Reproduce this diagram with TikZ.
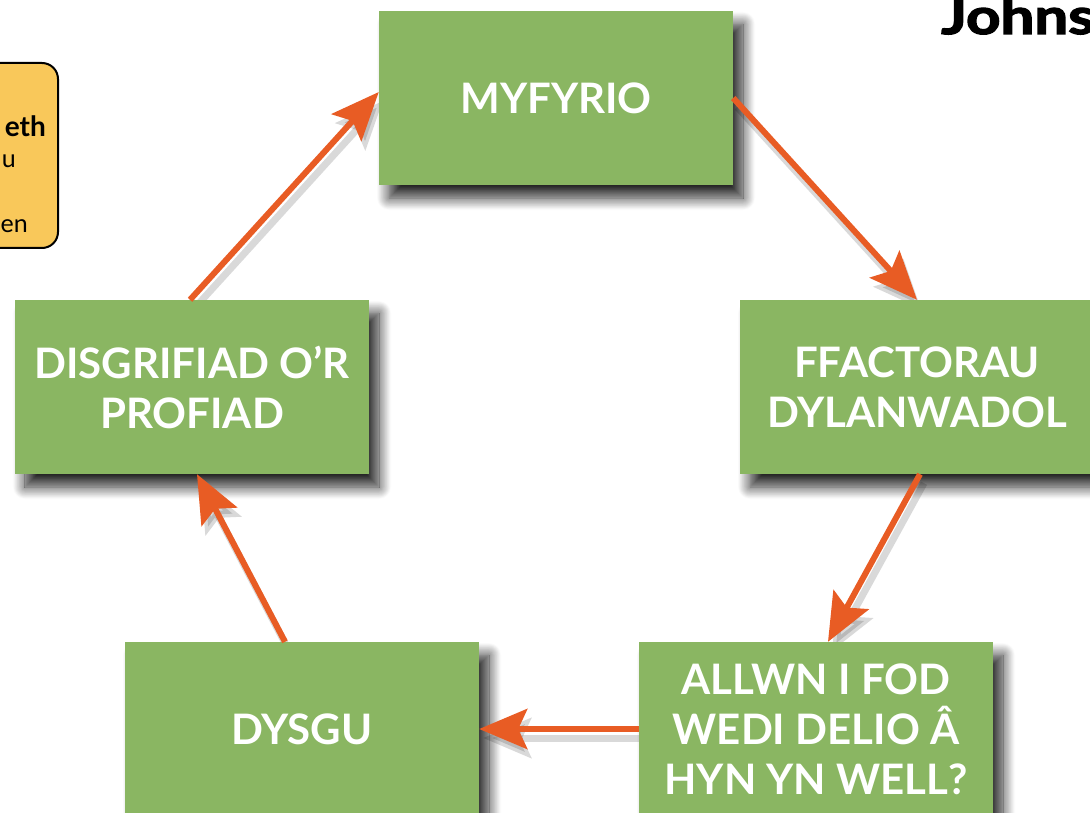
\documentclass[tikz,border=0pt]{standalone}
\usepackage{fontspec}
\setmainfont{Lato}
\newfontfamily\heavyfont[BoldFeatures={FakeBold=2.5}]{Lato}
\usetikzlibrary{arrows.meta,shadows.blur,backgrounds}
\definecolor{boxgreen}{HTML}{8AB662}
\definecolor{arrorange}{HTML}{E85C24}
\definecolor{notefill}{HTML}{F9C85A}
\begin{document}
\begin{tikzpicture}[x=1pt,y=-1pt,
  stage/.style={rectangle, fill=boxgreen, minimum width=354pt, minimum height=174pt,
    inner sep=0pt, align=center, text=white, font=\fontsize{42}{50}\selectfont\bfseries,
    blur shadow={shadow xshift=10pt, shadow yshift=-13pt, shadow blur radius=12pt,
      shadow blur steps=14, shadow opacity=85}},
  flow/.style={line width=6pt, draw=arrorange, -{Stealth[length=48pt,width=40pt,inset=9pt,fill=arrorange]}},
  flowshadow/.style={line width=7pt, draw=black, opacity=0.15, -{Stealth[length=48pt,width=40pt,inset=9pt]}},
  frag/.style={anchor=base east, inner sep=0pt, font=\fontsize{25}{28}\selectfont}
]
\useasboundingbox (0,0) rectangle (1090,813);
% note box on the left (mostly cut off)
\node[draw=black, line width=2pt, fill=notefill, rounded corners=16pt,
      minimum width=100pt, minimum height=185pt, inner sep=0pt] (note) at (8,155.5) {};
\node[frag, font=\fontsize{28}{30}\selectfont\bfseries] (n1) at (46,137) {eth};
\node[frag] (n2) at (16,168) {u};
\node[frag] (n3) at (28,233) {en};
% title fragment
\node[anchor=base west, inner sep=0pt, xscale=1.2, font=\fontsize{50}{56}\selectfont\heavyfont\bfseries] (title) at (941,34) {Johns};
% stages
\node[stage] (m) at (556,98) {MYFYRIO};
\node[stage] (f) at (917,387) {FFACTORAU\\DYLANWADOL};
\node[stage] (a) at (816,729) {ALLWN I FOD\\WEDI DELIO Â\\HYN YN WELL?};
\node[stage] (y) at (302,729) {DYSGU};
\node[stage] (d) at (192,387) {DISGRIFIAD O’R\\PROFIAD};
% arrow shadows
\begin{scope}[on background layer]
\begin{scope}[transform canvas={xshift=4pt,yshift=-9pt}]
\draw[flowshadow] (m.east) -- (f.north);
\draw[flowshadow] ([xshift=3pt]f.south) -- ([xshift=12pt]a.north);
\draw[flowshadow] (a.west) -- (y.east);
\draw[flowshadow] ([xshift=-17pt]y.north) -- ([xshift=5pt]d.south);
\draw[flowshadow] ([xshift=-2pt]d.north) -- ([yshift=6pt]m.west);
\end{scope}
\end{scope}
% arrows
\draw[flow] (m.east) -- (f.north);
\draw[flow] ([xshift=3pt]f.south) -- ([xshift=12pt]a.north);
\draw[flow] (a.west) -- (y.east);
\draw[flow] ([xshift=-17pt]y.north) -- ([xshift=5pt]d.south);
\draw[flow] ([xshift=-2pt]d.north) -- ([yshift=6pt]m.west);
\end{tikzpicture}
\end{document}
